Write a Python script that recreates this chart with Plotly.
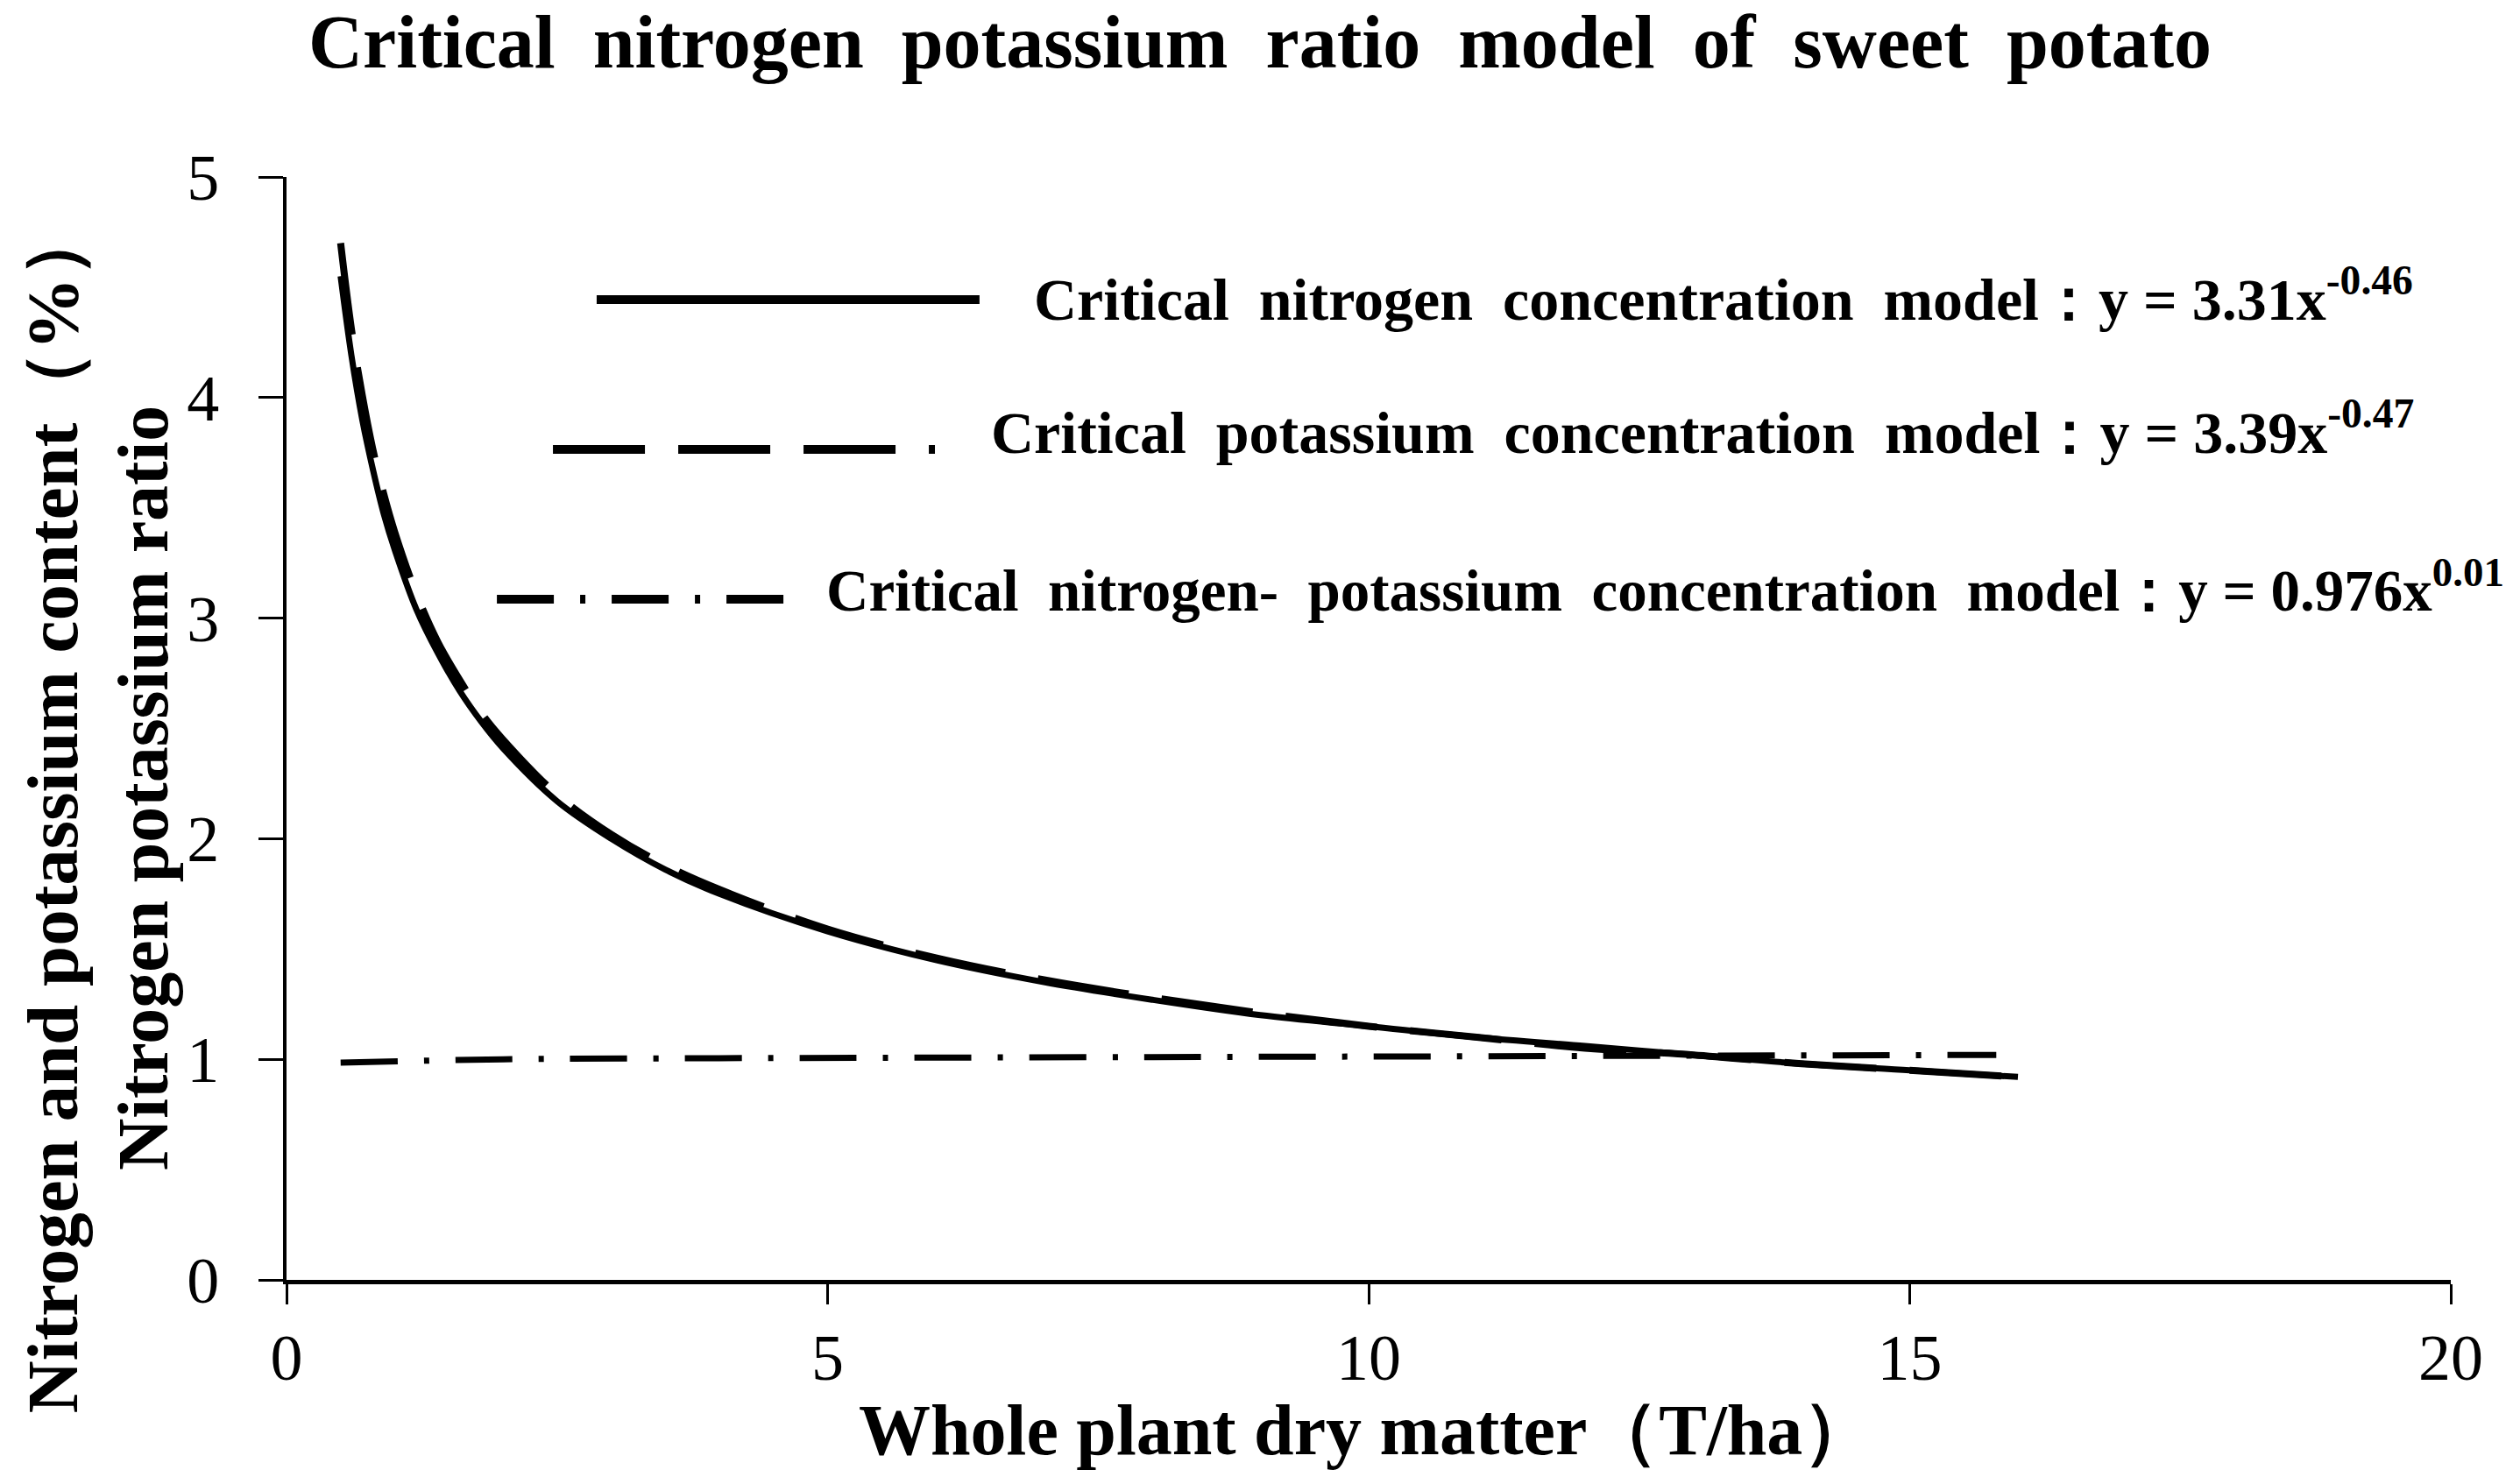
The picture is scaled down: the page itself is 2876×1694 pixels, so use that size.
import plotly.graph_objects as go

# --- Data ---
dry_matter = [0.5, 0.6, 0.7, 0.8, 0.9, 1.0, 1.2, 1.4, 1.6, 1.8, 2.0, 2.5, 3.0, 3.5,
              4.0, 5.0, 6.0, 7.0, 8.0, 9.0, 10.0, 11.0, 12.0, 13.0, 14.0, 15.0, 16.0]
nitrogen = [4.55, 4.19, 3.90, 3.67, 3.47, 3.31, 3.04, 2.84, 2.67, 2.53, 2.41, 2.17, 2.00, 1.86,
            1.75, 1.58, 1.45, 1.35, 1.27, 1.20, 1.15, 1.10, 1.06, 1.02, 0.98, 0.95, 0.92]
potassium = [4.70, 4.31, 4.01, 3.76, 3.56, 3.39, 3.11, 2.89, 2.72, 2.57, 2.45, 2.20, 2.02, 1.88,
             1.77, 1.59, 1.46, 1.36, 1.28, 1.21, 1.15, 1.10, 1.05, 1.02, 0.98, 0.95, 0.92]
nk_x = [0.5, 2.0, 4.0, 8.0, 12.0, 15.8]
nk_ratio = [0.985, 1.0, 1.005, 1.01, 1.015, 1.02]

x_ticks = [0, 5, 10, 15, 20]
y_ticks = [0, 1, 2, 3, 4, 5]

title_text = "Critical  nitrogen  potassium  ratio  model  of  sweet  potato"
x_title = "Whole plant dry matter（T/ha）"
y_title_1 = "Nitrogen and potassium content（%）"
y_title_2 = "Nitrogen potassium ratio"
legend_labels = [
    "Critical  nitrogen  concentration  model：y = 3.31x<sup>-0.46</sup>",
    "Critical  potassium  concentration  model：y = 3.39x<sup>-0.47</sup>",
    "Critical  nitrogen-  potassium  concentration  model：y = 0.976x<sup>0.01</sup>",
]
legend_sizes = [68, 68, 67]

SERIF = "Liberation Serif, Times New Roman, serif"
W, H = 2876, 1694
L, R, T, B = 327, 79, 202, 233

DASH = "105px,38px"
DASHDOT = "65px,30px,6px,30px"

fig = go.Figure()

fig.add_trace(go.Scatter(
    x=dry_matter, y=potassium, mode="lines",
    line=dict(color="black", width=8, dash=DASH, shape="spline"),
    showlegend=False, hoverinfo="x+y"))
fig.add_trace(go.Scatter(
    x=dry_matter, y=nitrogen, mode="lines",
    line=dict(color="black", width=7, shape="spline"),
    showlegend=False, hoverinfo="x+y"))
fig.add_trace(go.Scatter(
    x=nk_x, y=nk_ratio, mode="lines",
    line=dict(color="black", width=7, dash=DASHDOT, shape="spline"),
    showlegend=False, hoverinfo="x+y"))

# hand-made legend: sample line + label, in paper coords
legend_rows = [
    (0.1433, 0.3202, 0.8888, "solid", 0.3445, 0.8928),
    (0.1231, 0.2996, 0.7530, DASH, 0.3247, 0.7720),
    (0.0972, 0.2316, 0.6172, DASHDOT, 0.2486, 0.6290),
]
shapes = []
annotations = []
for (x0, x1, yy, dash, tx, ty), label, size in zip(legend_rows, legend_labels, legend_sizes):
    shapes.append(dict(type="line", xref="paper", yref="paper",
                       x0=x0, x1=x1, y0=yy, y1=yy,
                       line=dict(color="black", width=10, dash=dash)))
    annotations.append(dict(xref="paper", yref="paper", x=tx, y=ty,
                            xanchor="left", yanchor="middle", showarrow=False,
                            text="<b>" + label + "</b>",
                            font=dict(family=SERIF, size=size, color="black")))

annotations.append(dict(xref="paper", yref="paper", x=0.499, y=-0.1366,
                        xanchor="center", yanchor="middle", showarrow=False,
                        text="<b>" + x_title + "</b>",
                        font=dict(family=SERIF, size=82, color="black")))
annotations.append(dict(xref="paper", yref="paper", x=-0.1080, y=0.4273,
                        xanchor="center", yanchor="middle", showarrow=False,
                        textangle=-90, text="<b>" + y_title_1 + "</b>",
                        font=dict(family=SERIF, size=83, color="black")))
annotations.append(dict(xref="paper", yref="paper", x=-0.0660, y=0.4464,
                        xanchor="center", yanchor="middle", showarrow=False,
                        textangle=-90, text="<b>" + y_title_2 + "</b>",
                        font=dict(family=SERIF, size=82, color="black")))

fig.update_layout(
    width=W, height=H,
    margin=dict(l=L, r=R, t=T, b=B),
    paper_bgcolor="white", plot_bgcolor="white",
    title=dict(text="<b>" + title_text + "</b>", x=0.5, xref="container",
               xanchor="center", y=1 - 47 / H, yanchor="middle",
               font=dict(family=SERIF, size=86, color="black")),
    shapes=shapes,
    annotations=annotations,
    showlegend=False,
)

fig.update_xaxes(
    range=[0, 20], tickvals=x_ticks, ticktext=[str(v) for v in x_ticks],
    showgrid=False, zeroline=False, showline=True, linecolor="black", linewidth=5,
    ticks="outside", ticklen=23, tickwidth=3, tickcolor="black",
    ticklabelstandoff=-3,
    tickfont=dict(family=SERIF, size=74, color="black"))
fig.update_yaxes(
    range=[0, 5], tickvals=y_ticks, ticktext=[str(v) for v in y_ticks],
    showgrid=False, zeroline=False, showline=True, linecolor="black", linewidth=4,
    ticks="outside", ticklen=28, tickwidth=3, tickcolor="black",
    ticklabelstandoff=30,
    tickfont=dict(family=SERIF, size=74, color="black"))

# drop the default body margin so the figure sits at the page's corner
fig.write_html("out.html", config={"displayModeBar": False},
               post_script="document.body.style.margin='0';")
